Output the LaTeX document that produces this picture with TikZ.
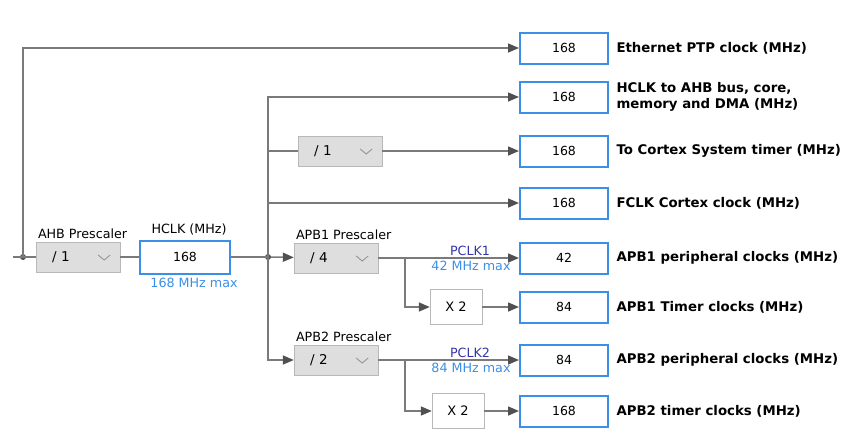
\documentclass[tikz,border=0pt]{standalone}
\usepackage{fontspec}
\setmainfont{DejaVu Sans}
\usepackage{tikz}
\usetikzlibrary{arrows.meta, positioning, calc}
\definecolor{wiregray}{HTML}{7A7A7A}
\definecolor{tipgray}{HTML}{505050}
\definecolor{prefill}{HTML}{DEDEDE}
\definecolor{preline}{HTML}{B8B8B8}
\definecolor{clkblue}{HTML}{3B8FE6}
\definecolor{pclkblue}{HTML}{3535A5}
\tikzstyle{presc} = [draw=preline, fill=prefill, minimum width=83pt, minimum height=30pt, text width=52pt, align=left, inner xsep=16pt, font=\fontsize{13.5}{15}\selectfont]
\tikzstyle{outbox} = [draw=clkblue, line width=2pt, fill=white, minimum width=88pt, minimum height=31pt, font=\fontsize{12.5}{14}\selectfont]
\tikzstyle{mulbox} = [draw=preline, fill=white, minimum width=52pt, minimum height=35pt, font=\fontsize{13}{15}\selectfont]
\tikzstyle{lbl} = [anchor=west, align=left, font=\bfseries\fontsize{13.3}{15.5}\selectfont]
\tikzstyle{small} = [font=\fontsize{12.7}{14}\selectfont, inner sep=1pt]
\tikzstyle{wire} = [draw=wiregray, line width=1.5pt]
\tikzstyle{arrow} = [wire, -{Triangle[length=11pt,width=9pt,color=tipgray]}]
\tikzstyle{dot} = [circle, fill=tipgray, inner sep=0pt, minimum size=6pt]
\newcommand{\chev}[1]{\draw[wiregray!80, line width=0.9pt] ($(#1.east)+(-22pt,2pt)$) -- ++(6pt,-5pt) -- ++(6pt,5pt);}

\begin{document}
\begin{tikzpicture}[x=1pt, y=-1pt]
    \useasboundingbox (0,0) rectangle (848,437);

    % Input side
    \coordinate (in) at (13,257);
    \node (dotin) [dot] at (23,257) {};
    \node (ahb) [presc] at (78,257) {/ 1};
    \node (hclk) [outbox, minimum width=90pt, minimum height=33pt] at (185,257) {168};
    \node [small, above right=2pt and 1pt of ahb.north west] {AHB Prescaler};
    \node [small, above=3pt of hclk.north, xshift=4pt] {HCLK (MHz)};
    \node [small, text=clkblue, below=2pt of hclk.south, xshift=9pt] {168 MHz max};
    \node (dotsplit) [dot] at (268,257) {};

    % Prescalers
    \node (systick) [presc] at (340,151) {/ 1};
    \node (apb1) [presc] at (336,258) {/ 4};
    \node (apb2) [presc] at (336,360) {/ 2};
    \node [small, above right=2pt and 1pt of apb1.north west] {APB1 Prescaler};
    \node [small, above right=2pt and 1pt of apb2.north west] {APB2 Prescaler};
    \chev{ahb} \chev{systick} \chev{apb1} \chev{apb2}

    % Timer multipliers
    \node (mul1) [mulbox] at (456,307) {X 2};
    \node (mul2) [mulbox] at (458,411) {X 2};
    \coordinate (br1) at (405,258);
    \coordinate (br2) at (405,360);

    % Output clocks
    \node (eth) [outbox] at (564,48) {168};
    \node (ahbout) [outbox] at (564,97) {168};
    \node (cortex) [outbox] at (564,151) {168};
    \node (fclk) [outbox] at (564,203) {168};
    \node (pclk1) [outbox] at (564,258) {42};
    \node (tim1) [outbox] at (564,307) {84};
    \node (pclk2) [outbox] at (564,360) {84};
    \node (tim2) [outbox] at (564,411) {168};

    \node [lbl, right=4pt of eth] {Ethernet PTP clock (MHz)};
    \node [lbl, right=4pt of ahbout] {HCLK to AHB bus, core,\\memory and DMA (MHz)};
    \node [lbl, right=4pt of cortex] {To Cortex System timer (MHz)};
    \node [lbl, right=4pt of fclk] {FCLK Cortex clock (MHz)};
    \node [lbl, right=4pt of pclk1] {APB1 peripheral clocks (MHz)};
    \node [lbl, right=4pt of tim1] {APB1 Timer clocks (MHz)};
    \node [lbl, right=4pt of pclk2] {APB2 peripheral clocks (MHz)};
    \node [lbl, right=4pt of tim2] {APB2 timer clocks (MHz)};

    % Bus limits
    \node [small, text=pclkblue, above=1pt of br1, xshift=65pt] {PCLK1};
    \node [small, text=clkblue, below=2pt of br1, xshift=66pt] {42 MHz max};
    \node [small, text=pclkblue, above=1pt of br2, xshift=65pt] {PCLK2};
    \node [small, text=clkblue, below=2pt of br2, xshift=66pt] {84 MHz max};

    % Connections
    \draw [wire] (in) -- (ahb.west);
    \draw [wire] (ahb) -- (hclk);
    \draw [wire] (hclk) -- (dotsplit.center);
    \draw [arrow] (dotin.center) |- (eth.west);
    \draw [arrow] (dotsplit.center) |- (ahbout.west);
    \draw [wire] (dotsplit.center) |- (systick.west);
    \draw [arrow] (dotsplit.center) |- (fclk.west);
    \draw [arrow] (dotsplit) -- (apb1);
    \draw [arrow] (dotsplit.center) |- (apb2.west);
    \draw [arrow] (systick) -- (cortex);
    \draw [arrow] (apb1) -- (pclk1);
    \draw [arrow] (br1) |- (mul1.west);
    \draw [arrow] (mul1) -- (tim1);
    \draw [arrow] (apb2) -- (pclk2);
    \draw [arrow] (br2) |- (mul2.west);
    \draw [arrow] (mul2) -- (tim2);
\end{tikzpicture}
\end{document}
